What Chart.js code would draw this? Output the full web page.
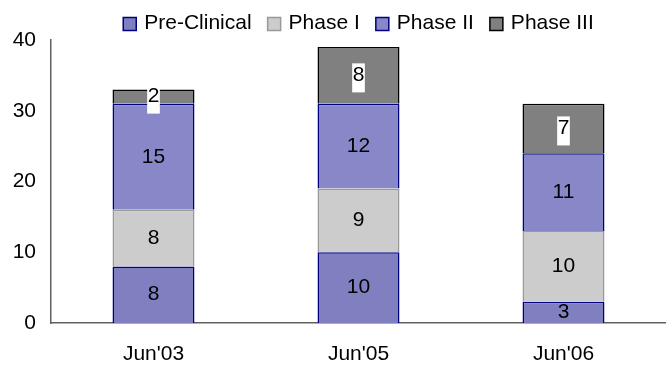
<!DOCTYPE html>
<html>
<head>
<meta charset="utf-8">
<script src="https://cdn.jsdelivr.net/npm/chart.js@4"></script>
<style>
  html, body { margin: 0; padding: 0; background: #fff; }
  #wrap { width: 666px; height: 365px; }
</style>
</head>
<body>
<div id="wrap"><canvas id="myChart"></canvas></div>
<script>
// pipeline counts per period
const periods = ["Jun'03", "Jun'05", "Jun'06"];
const preClinical = [8, 10, 3];
const phase1 = [8, 9, 10];
const phase2 = [15, 12, 11];
const phase3 = [2, 8, 7];
const yTicks = [0, 10, 20, 30, 40];

const FONT = 'Liberation Sans, Arial, sans-serif';
const FONT_SIZE = 21;

// write each value in the middle of its segment, Phase III gets a white box
const segmentLabels = {
  id: 'segmentLabels',
  afterDatasetsDraw(chart) {
    const ctx = chart.ctx;
    ctx.save();
    ctx.font = FONT_SIZE + 'px ' + FONT;
    ctx.textAlign = 'center';
    ctx.textBaseline = 'middle';
    chart.data.datasets.forEach((ds, i) => {
      const meta = chart.getDatasetMeta(i);
      meta.data.forEach((bar, j) => {
        const v = ds.data[j];
        const cy = (bar.y + bar.base) / 2;
        const txt = String(v);
        if (ds.boxed) {
          const w = ctx.measureText(txt).width + 1;
          ctx.fillStyle = '#fff';
          ctx.fillRect(bar.x - w / 2, cy - 12, w, 29);
        }
        ctx.fillStyle = '#000';
        ctx.fillText(txt, bar.x, cy);
      });
    });
    ctx.restore();
  }
};

// legend row across the top: square swatch then name
const topLegend = {
  id: 'topLegend',
  afterDraw(chart) {
    const ctx = chart.ctx;
    const sw = 13, gap = 8, spacing = 16, cy = 23;
    ctx.save();
    ctx.font = FONT_SIZE + 'px ' + FONT;
    ctx.textBaseline = 'middle';
    const items = chart.data.datasets.map(ds => ({ ds, w: ctx.measureText(ds.label).width }));
    const total = items.reduce((s, it) => s + sw + gap + it.w, 0) + spacing * (items.length - 1);
    let x = (chart.chartArea.left + chart.chartArea.right) / 2 - total / 2;
    items.forEach(it => {
      ctx.fillStyle = it.ds.backgroundColor;
      ctx.fillRect(x, cy - sw / 2 + 1, sw, sw);
      ctx.strokeStyle = it.ds.borderColor;
      ctx.lineWidth = 1.5;
      ctx.strokeRect(x, cy - sw / 2 + 1, sw, sw);
      ctx.fillStyle = '#000';
      ctx.fillText(it.ds.label, x + sw + gap, cy);
      x += sw + gap + it.w + spacing;
    });
    ctx.restore();
  }
};

const myChart = document.getElementById('myChart');

let barChart = new Chart(myChart, {
  type: 'bar',
  data: {
    labels: periods,
    datasets: [
      { label: 'Pre-Clinical', data: preClinical, backgroundColor: '#8080c0', borderColor: '#000080', borderWidth: 1.5 },
      { label: 'Phase I', data: phase1, backgroundColor: '#cccccc', borderColor: '#999999', borderWidth: 1.5 },
      { label: 'Phase II', data: phase2, backgroundColor: '#8888c8', borderColor: '#000080', borderWidth: 1.5 },
      { label: 'Phase III', data: phase3, backgroundColor: '#808080', borderColor: '#000000', borderWidth: 1.5, boxed: true }
    ]
  },
  options: {
    responsive: true,
    maintainAspectRatio: false,
    animation: false,
    layout: { padding: { left: 0, right: 0, top: 40, bottom: 0 } },
    datasets: { bar: { categoryPercentage: 1, barPercentage: 0.4 } },
    plugins: {
      legend: { display: false },
      tooltip: { enabled: false }
    },
    scales: {
      x: {
        stacked: true,
        grid: { display: false },
        border: { color: '#606060', width: 1.5 },
        ticks: { font: { size: FONT_SIZE, family: FONT }, color: '#000', padding: 11 },
        afterFit(axis) { axis.height = 42; }
      },
      y: {
        stacked: true,
        min: 0,
        max: 40,
        afterBuildTicks(axis) { axis.ticks = yTicks.map(v => ({ value: v })); },
        grid: { display: false },
        border: { color: '#606060', width: 1.5 },
        ticks: { font: { size: FONT_SIZE, family: FONT }, color: '#000', padding: 7 },
        afterFit(axis) { axis.width = 51; }
      }
    }
  },
  plugins: [segmentLabels, topLegend]
});
</script>
</body>
</html>
